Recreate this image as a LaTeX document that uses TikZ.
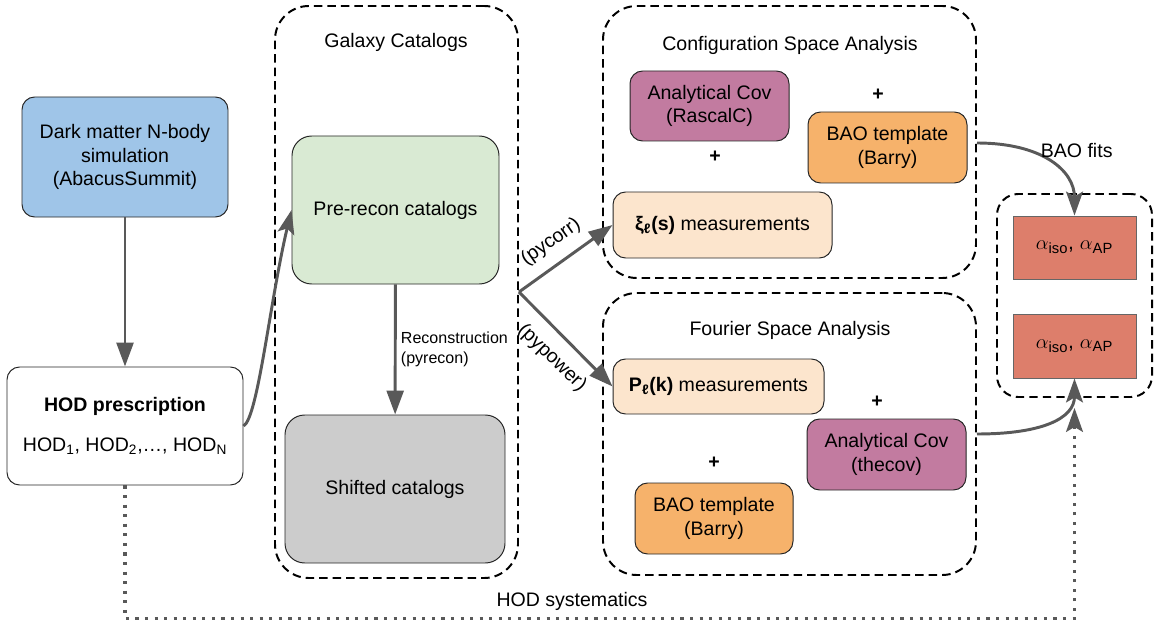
\documentclass[tikz,border=0pt]{standalone}
\usepackage{fontspec}
\setmainfont{Liberation Sans}
\usetikzlibrary{arrows.meta,calc}
\definecolor{simblue}{HTML}{9FC5E8}
\definecolor{catgreen}{HTML}{D9EAD3}
\definecolor{catgray}{HTML}{CCCCCC}
\definecolor{covpink}{HTML}{C27BA0}
\definecolor{baoorange}{HTML}{F6B26B}
\definecolor{measpeach}{HTML}{FCE5CD}
\definecolor{fitred}{HTML}{DD7E6B}
\definecolor{arrgray}{HTML}{595959}
\def\px{0.025cm}

\begin{document}
\begin{tikzpicture}[x=0.025cm, y=-0.025cm,
		txt/.style={font=\fontsize{13.9}{16.5}\selectfont, align=center, inner sep=0pt},
		box/.style={txt, draw=black!85, line width=0.7pt, rounded corners=9pt},
		grp/.style={draw, dash pattern=on 6pt off 3.6pt, line width=1.4pt, rounded corners=24pt, inner sep=0pt},
		plus/.style={font=\fontsize{13.9}{16.5}\selectfont\bfseries, inner sep=0pt},
		arr/.style={draw=arrgray, line width=2.1pt, -{Triangle[length=17pt,width=12pt]}},
		carr/.style={draw=arrgray, line width=2.1pt, -{Stealth[length=17pt,width=12pt,inset=3.5pt]}},
		lbl/.style={font=\fontsize{13.9}{16.5}\selectfont, inner sep=1pt},
		fitbox/.style={txt, draw=black!60, line width=0.7pt, fill=fitred, minimum width=123*\px, font=\fontsize{15}{17}\selectfont}]
	%%%%% START %%%%%
	\useasboundingbox (0,0) rectangle (1163,623);
	
	% groups
	\node[grp, minimum width=243*\px, minimum height=572*\px] (gal) at (396.5,292) {};
	\node[grp, minimum width=373*\px, minimum height=272*\px] (conf) at (789.5,142) {};
	\node[grp, minimum width=373*\px, minimum height=282*\px] (four) at (789.5,434) {};
	\node[grp, rounded corners=15pt, minimum width=155*\px, minimum height=203*\px] (fit) at (1074.5,295.5) {};
	\node[txt] (galt) at (396,42) {Galaxy Catalogs};
	\node[txt] (conft) at (790,45) {Configuration Space Analysis};
	\node[txt] (fourt) at (790,330) {Fourier Space Analysis};
	
	% simulation side
	\node[box, fill=simblue, minimum width=206*\px, minimum height=120*\px] (sim) at (125,157)
		{Dark matter N-body\\simulation\\(AbacusSummit)};
	\node[box, fill=white, minimum width=236*\px, minimum height=118*\px] (hod) at (125,426)
		{\textbf{HOD prescription}\\[12pt]HOD\textsubscript{1}, HOD\textsubscript{2},\ldots, HOD\textsubscript{N}};
	
	% catalogs
	\node[box, fill=catgreen, rounded corners=14pt, minimum width=207*\px, minimum height=148*\px] (pre) at (395.5,210) {Pre-recon catalogs};
	\node[box, fill=catgray, rounded corners=14pt, minimum width=220*\px, minimum height=148*\px] (shift) at (395,489) {Shifted catalogs};
	
	% configuration space
	\node[box, fill=covpink, minimum width=159*\px, minimum height=70*\px] (covc) at (709.5,106) {Analytical Cov\\(RascalC)};
	\node[box, fill=baoorange, minimum width=159*\px, minimum height=71*\px] (baoc) at (887.5,147.5) {BAO template\\(Barry)};
	\node[box, fill=measpeach, minimum width=219*\px, minimum height=66*\px] (xi) at (722.5,225) {\textbf{ξ\textsubscript{ℓ}(s)} measurements};
	\node[plus] (pc1) at (715,157) {+};
	\node[plus] (pc2) at (878,95) {+};
	
	% fourier space
	\node[box, fill=measpeach, minimum width=211*\px, minimum height=55*\px] (pk) at (718.5,386.5) {\textbf{P\textsubscript{ℓ}(k)} measurements};
	\node[box, fill=covpink, minimum width=159*\px, minimum height=71*\px] (covf) at (886.5,454.5) {Analytical Cov\\(thecov)};
	\node[box, fill=baoorange, minimum width=158*\px, minimum height=71*\px] (baof) at (714,518.5) {BAO template\\(Barry)};
	\node[plus] (pf1) at (877,402) {+};
	\node[plus] (pf2) at (714,463) {+};
	
	% fits
	\node[fitbox, minimum height=63*\px] (al1) at (1074.5,247.5) {$\alpha$\textsubscript{iso}, $\alpha$\textsubscript{AP}};
	\node[fitbox, minimum height=64*\px] (al2) at (1074.5,346) {$\alpha$\textsubscript{iso}, $\alpha$\textsubscript{AP}};
	
	% connectors
	\draw[arr] (sim) -- (hod);
	\draw[carr] (hod.east) .. controls (258,418) and (270,300) .. (pre.west);
	\draw[arr] (pre) -- node[lbl, right, align=left, font=\fontsize{11.4}{14}\selectfont, xshift=2pt] {Reconstruction\\(pyrecon)} (shift);
	\draw[arr] (gal.east) -- (xi.west);
	\draw[arr] (gal.east) -- (pk.west);
	\node[lbl, rotate=35] (pycl) at (551,242) {(pycorr)};
	\node[lbl, rotate=-44] (pypl) at (552,358) {(pypower)};
	\draw[carr] (conf.east |- 0,143) .. controls +(65,0) and +(0,-45) .. node[txt, pos=0.45, above right, xshift=-4pt] (fitst) {BAO fits} (al1.north);
	\draw[carr] (four.east) .. controls +(65,0) and +(0,40) .. (al2.south);
	\draw[arrgray, line width=2.2pt, dash pattern=on 2.2pt off 4.6pt, -{Stealth[length=17pt,width=12pt,inset=3.5pt]}]
		(hod.south) -- ++(0,133) -| ($(fit.south)+(0,10)$);
	\node[txt] (syst) at (572,601) {HOD systematics};
	
	%%%%% END %%%%%
\end{tikzpicture}
\end{document}
